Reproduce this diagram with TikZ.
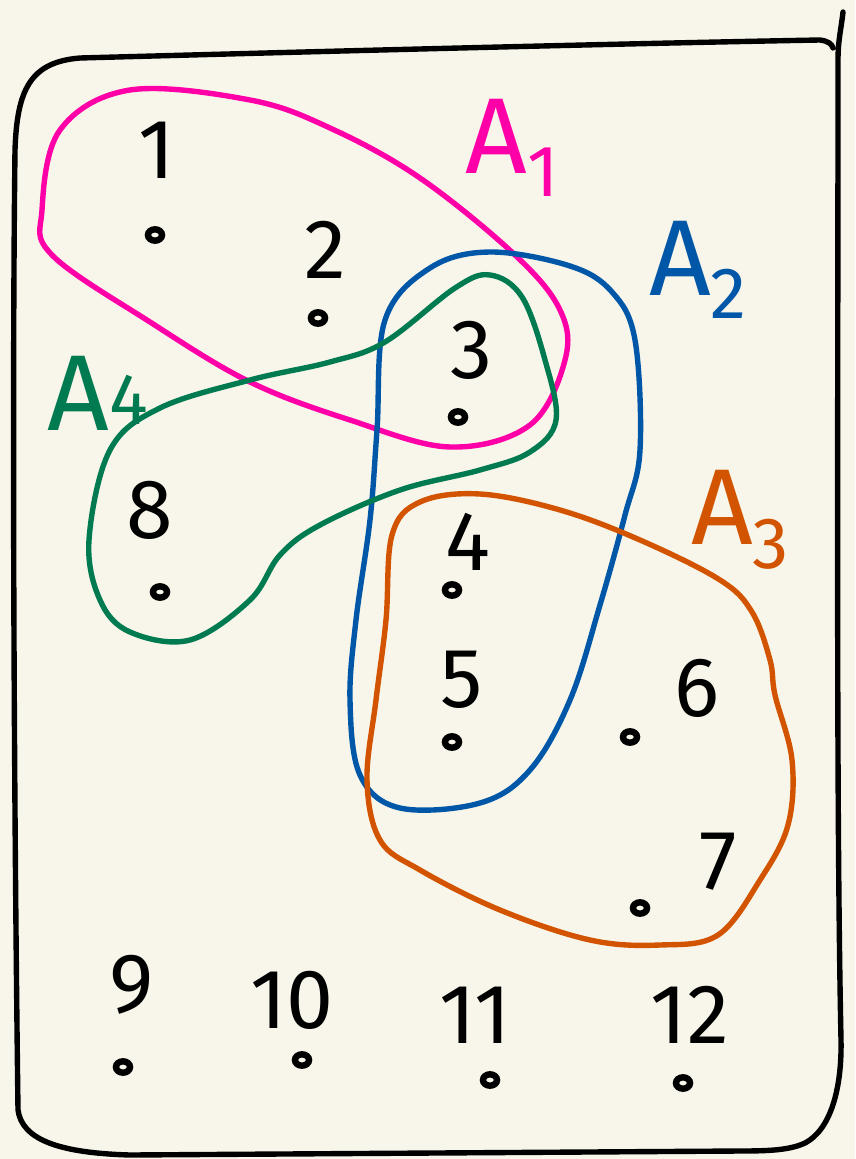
\documentclass[tikz,border=0pt]{standalone}
\usepackage{fontspec}
\setmainfont{Fira Sans}
\definecolor{paper}{HTML}{F8F6EA}
\definecolor{setpink}{HTML}{FF00A8}
\definecolor{setblue}{HTML}{0057A8}
\definecolor{setorange}{HTML}{D35400}
\definecolor{setgreen}{HTML}{007A50}
\tikzset{
  pen/.style={line width=4.6pt, line cap=round, line join=round},
  element/.style={font=\fontsize{72}{72}\selectfont, inner sep=0pt},
  setname/.style={font=\fontsize{92}{92}\selectfont, inner sep=0pt},
  point/.style={ellipse, draw, line width=5.5pt, minimum width=0.42cm, minimum height=0.34cm, inner sep=0pt}
}
\usetikzlibrary{shapes.geometric}
\newcommand{\sub}[1]{\raisebox{-0.22em}{\fontsize{62}{62}\selectfont #1}}
\begin{document}
\begin{tikzpicture}[x=0.03cm, y=-0.03cm]

    % Paper
    \fill[paper] (0,0) rectangle (855,1159);
    \useasboundingbox (0,0) rectangle (855,1159);

    % Universe
    \draw[pen] (843,12) .. controls (841,30) and (838,40) .. (838,60)
        .. controls (838,400) and (836,800) .. (841,1040)
        .. controls (842,1090) and (830,1130) .. (805,1143)
        .. controls (790,1150) and (770,1151) .. (740,1151)
        -- (130,1155)
        .. controls (60,1153) and (22,1140) .. (18,1110)
        .. controls (14,800) and (12,400) .. (15,150)
        .. controls (17,90) and (30,62) .. (80,58)
        .. controls (300,52) and (600,44) .. (820,40)
        .. controls (828,41) and (832,44) .. (833,48);

    % A1
    \draw[pen, setpink] plot[smooth cycle, tension=0.6] coordinates {(42,210) (60,130) (130,90) (250,100) (330,128) (420,178) (515,255) (560,310) (565,360) (530,425) (450,447) (350,420) (250,382) (150,322) (52,255)};

    % A2
    \draw[pen, setblue] plot[smooth cycle, tension=0.6] coordinates {(385,320) (430,268) (490,252) (570,266) (612,292) (635,340) (640,450) (625,515) (600,605) (570,700) (530,770) (480,803) (400,808) (360,775) (350,700) (356,620) (370,520) (377,430)};

    % A3
    \draw[pen, setorange] plot[smooth cycle, tension=0.6] coordinates {(392,535) (420,502) (480,494) (560,510) (640,540) (720,580) (752,612) (770,660) (775,695) (792,760) (788,825) (760,880) (718,935) (660,945) (590,940) (500,910) (420,870) (380,840) (367,780) (376,700) (386,620)};

    % A4
    \draw[pen, setgreen] plot[smooth cycle, tension=0.6] coordinates {(110,450) (160,408) (250,380) (330,362) (385,342) (455,288) (490,275) (522,297) (545,360) (556,420) (530,452) (480,470) (400,490) (320,525) (280,555) (250,600) (190,640) (130,632) (100,600) (89,540)};

    % Set names
    \node[setname, text=setpink] (a1) at (512,148) {A\sub{1}};
    \node[setname, text=setblue] (a2) at (698,270) {A\sub{2}};
    \node[setname, text=setorange] (a3) at (740,520) {A\sub{3}};
    \node[setname, text=setgreen] (a4) at (98,393) {A\raisebox{0.05em}{\fontsize{62}{62}\selectfont 4}};

    % Elements
    \node[element] (n1) at (157,150) {1};
    \node[element] (n2) at (325,250) {2};
    \node[element] (n3) at (472,350) {3};
    \node[element] (n4) at (468,542) {4};
    \node[element] (n5) at (462,680) {5};
    \node[element] (n6) at (697,688) {6};
    \node[element] (n7) at (718,862) {7};
    \node[element] (n8) at (150,510) {8};
    \node[element] (n9) at (132,985) {9};
    \node[element] (n10) at (292,1000) {10};
    \node[element] (n11) at (475,1015) {11};
    \node[element] (n12) at (690,1015) {12};

    % Points
    \node[point] (p1) at (155,235) {};
    \node[point] (p2) at (318,318) {};
    \node[point] (p3) at (458,417) {};
    \node[point] (p4) at (452,590) {};
    \node[point] (p5) at (452,742) {};
    \node[point] (p6) at (630,737) {};
    \node[point] (p7) at (640,908) {};
    \node[point] (p8) at (160,592) {};
    \node[point] (p9) at (123,1067) {};
    \node[point] (p10) at (302,1060) {};
    \node[point] (p11) at (490,1080) {};
    \node[point] (p12) at (683,1083) {};

\end{tikzpicture}
\end{document}
